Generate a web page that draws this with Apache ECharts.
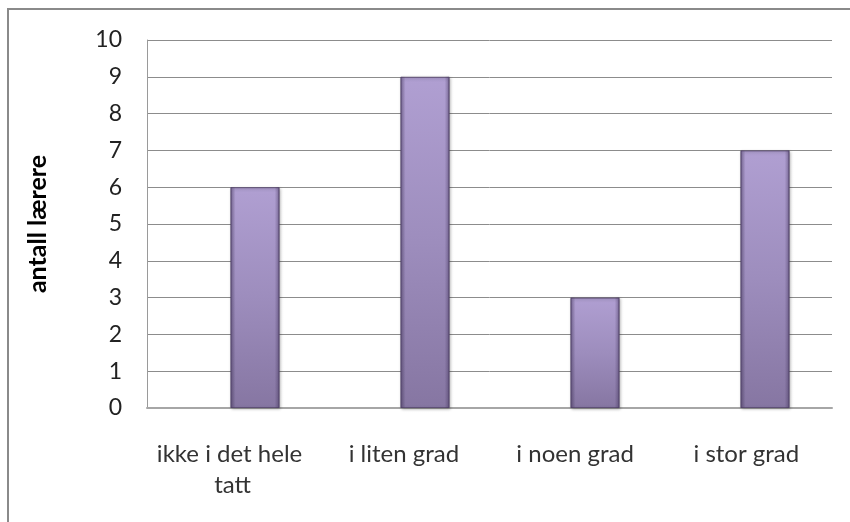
<!DOCTYPE html>
<html>
<head>
<meta charset="utf-8">
<script src="https://cdn.jsdelivr.net/npm/echarts@6/dist/echarts.min.js"></script>
<style>
  html, body { margin: 0; padding: 0; background: #fff; }
  #chart { width: 850px; height: 522px; }
</style>
</head>
<body>
<div id="chart"></div>
<script>
// Answer categories and number of teachers per answer
const categories = ['ikke i det hele tatt', 'i liten grad', 'i noen grad', 'i stor grad'];
const teacherCounts = [6, 9, 3, 7];
const yTicks = { min: 0, max: 10, interval: 1 };
const yAxisTitle = 'antall lærere';

const font = 'Lato, "Open Sans", "Liberation Sans", sans-serif';

const chart = echarts.init(document.getElementById('chart'), null, { renderer: 'canvas' });

// main body of each bar: lighter at the top, darker toward the base
const barFill = new echarts.graphic.LinearGradient(0, 0, 0, 1, [
  { offset: 0, color: '#b09fd2' },
  { offset: 0.5, color: '#9d8dbd' },
  { offset: 1, color: '#8676a2' }
]);
// bevelled side edges laid over the body
const edgeShade = new echarts.graphic.LinearGradient(0, 0, 1, 0, [
  { offset: 0, color: 'rgba(60,45,85,0.45)' },
  { offset: 0.1, color: 'rgba(60,45,85,0.0)' },
  { offset: 0.9, color: 'rgba(60,45,85,0.0)' },
  { offset: 1, color: 'rgba(60,45,85,0.45)' }
]);

chart.setOption({
  animation: false,
  backgroundColor: '#fff',
  graphic: [{
    type: 'rect',
    shape: { x: 8, y: 9, width: 900, height: 600 },
    style: { fill: 'none', stroke: '#8a8a8a', lineWidth: 2 },
    silent: true,
    z: 100
  }],
  grid: [
    // axes, labels and gridlines
    { left: 147, right: 18, top: 40, bottom: 114 },
    // bars, drawn a little to the right of their category centres
    { left: 170, right: -5, top: 40, bottom: 114 }
  ],
  xAxis: [{
    type: 'category',
    gridIndex: 0,
    data: categories,
    axisLine: { show: true, lineStyle: { color: '#a6a6a6', width: 2 } },
    axisTick: { show: false },
    axisLabel: {
      interval: 0,
      margin: 31,
      color: '#333',
      fontFamily: font,
      fontSize: 24,
      lineHeight: 31,
      width: 168,
      overflow: 'break'
    }
  }, {
    type: 'category',
    gridIndex: 1,
    data: categories,
    show: false
  }],
  yAxis: [{
    type: 'value',
    gridIndex: 0,
    min: yTicks.min,
    max: yTicks.max,
    interval: yTicks.interval,
    name: yAxisTitle,
    nameLocation: 'middle',
    nameGap: 97,
    nameRotate: 90,
    nameTextStyle: { fontFamily: font, fontSize: 25, fontWeight: 'bold', color: '#000' },
    axisLine: { show: true, lineStyle: { color: '#9a9a9a', width: 1 } },
    axisTick: { show: false },
    axisLabel: { margin: 25, color: '#222', fontFamily: font, fontSize: 23 },
    splitLine: { show: true, lineStyle: { color: '#8c8c8c', width: 1 } }
  }, {
    type: 'value',
    gridIndex: 1,
    min: yTicks.min,
    max: yTicks.max,
    interval: yTicks.interval,
    show: false,
    splitLine: { show: false }
  }],
  series: [{
    type: 'bar',
    xAxisIndex: 1,
    yAxisIndex: 1,
    data: teacherCounts,
    barWidth: 49,
    itemStyle: {
      color: barFill,
      borderColor: '#5f5076',
      borderWidth: 1,
      shadowColor: 'rgba(0,0,0,0.25)',
      shadowBlur: 3,
      shadowOffsetX: 1,
      shadowOffsetY: 1
    },
    z: 3
  }, {
    type: 'bar',
    xAxisIndex: 1,
    yAxisIndex: 1,
    data: teacherCounts,
    barWidth: 49,
    barGap: '-100%',
    silent: true,
    itemStyle: { color: edgeShade },
    z: 4
  }]
});
</script>
</body>
</html>
